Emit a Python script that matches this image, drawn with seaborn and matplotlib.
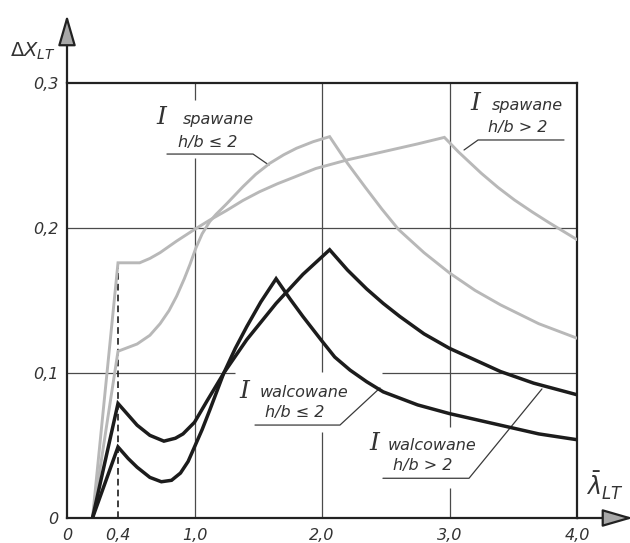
import numpy as np
import pandas as pd
import matplotlib
matplotlib.use("Agg")
import matplotlib.pyplot as plt
import seaborn as sns

# ---------------------------
# DATA
# ---------------------------

# I walcowane, h/b <= 2  (black, peak near 1.64)
walc_le_x = [0.2, 0.4, 0.48, 0.55, 0.65, 0.74, 0.82, 0.89, 0.95, 1.0, 1.06, 1.12, 1.23, 1.32, 1.41,
             1.52, 1.64, 1.75, 1.85, 2.0, 2.1, 2.22, 2.35, 2.48, 2.75, 3.0, 3.2, 3.4, 3.7, 4.0]
walc_le_y = [0.0, 0.049, 0.041, 0.035, 0.028, 0.025, 0.026, 0.031, 0.039, 0.049, 0.061, 0.0745, 0.1, 0.117, 0.132,
             0.149, 0.165, 0.151, 0.139, 0.122, 0.111, 0.102, 0.094, 0.087, 0.078, 0.072, 0.068, 0.064, 0.058, 0.054]

# I walcowane, h/b > 2  (black, peak near 2.06)
walc_gt_x = [0.2, 0.4, 0.48, 0.55, 0.65, 0.76, 0.85, 0.91, 1.0, 1.1, 1.23, 1.41, 1.64, 1.85,
             2.06, 2.2, 2.35, 2.48, 2.61, 2.8, 3.0, 3.2, 3.4, 3.66, 4.0]
walc_gt_y = [0.0, 0.079, 0.071, 0.064, 0.057, 0.053, 0.055, 0.058, 0.066, 0.081, 0.1, 0.123, 0.148, 0.168,
             0.185, 0.171, 0.158, 0.148, 0.139, 0.127, 0.117, 0.109, 0.101, 0.093, 0.085]

# I spawane, h/b <= 2  (grey, peak near 2.06)
spaw_le_x = [0.2, 0.4, 0.55, 0.65, 0.73, 0.8, 0.86, 0.92, 0.965, 1.01, 1.06, 1.12, 1.17, 1.25,
             1.38, 1.48, 1.59, 1.7, 1.8, 1.93, 2.06, 2.2, 2.34, 2.47, 2.6, 2.8, 3.0, 3.2, 3.4, 3.7, 4.0]
spaw_le_y = [0.0, 0.115, 0.12, 0.126, 0.134, 0.143, 0.153, 0.165, 0.175, 0.186, 0.196, 0.2045, 0.2095, 0.2165,
             0.2285, 0.237, 0.2446, 0.2505, 0.255, 0.2595, 0.263, 0.2446, 0.228, 0.213, 0.199, 0.183, 0.169,
             0.157, 0.147, 0.134, 0.124]

# I spawane, h/b > 2  (grey, peak near 2.96)
spaw_gt_x = [0.2, 0.4, 0.5, 0.57, 0.65, 0.73, 0.86, 1.0, 1.12, 1.25, 1.38, 1.51, 1.65, 1.78, 1.95,
             2.2, 2.5, 2.75, 2.96, 3.07, 3.25, 3.38, 3.51, 3.65, 3.775, 4.0]
spaw_gt_y = [0.0, 0.176, 0.176, 0.176, 0.179, 0.183, 0.191, 0.199, 0.2055, 0.212, 0.219, 0.225, 0.2305, 0.235,
             0.241, 0.247, 0.253, 0.258, 0.2625, 0.2525, 0.2377, 0.228, 0.2193, 0.211, 0.204, 0.192]

x_ticks = [0, 0.4, 1.0, 2.0, 3.0, 4.0]
x_tick_labels = ["0", "0,4", "1,0", "2,0", "3,0", "4,0"]
y_ticks = [0, 0.1, 0.2, 0.3]
y_tick_labels = ["0", "0,1", "0,2", "0,3"]

BLACK = "#1c1c1c"
GREY = "#b8b8b8"
INK = "#333333"

curves = pd.concat([
    pd.DataFrame({"x": walc_le_x, "y": walc_le_y, "curve": "walc_le"}),
    pd.DataFrame({"x": walc_gt_x, "y": walc_gt_y, "curve": "walc_gt"}),
    pd.DataFrame({"x": spaw_le_x, "y": spaw_le_y, "curve": "spaw_le"}),
    pd.DataFrame({"x": spaw_gt_x, "y": spaw_gt_y, "curve": "spaw_gt"}),
])

sns.set_style("white")
plt.rcParams["font.family"] = ["DejaVu Sans"]
plt.rcParams["mathtext.fontset"] = "dejavusans"

fig = plt.figure(figsize=(6.3, 5.43), dpi=100)
ax = fig.add_axes([67 / 630, 25 / 543, 510 / 630, 435 / 543])

# ---------------------------
# GRID (broken where the labels sit)
# ---------------------------
grid_kw = dict(color="#4a4a4a", lw=0.9, zorder=1)
ax.hlines(0.2, 0, 4, **grid_kw)
ax.hlines(0.1, 0, 1.32, **grid_kw)
ax.hlines(0.1, 2.47, 4, **grid_kw)
ax.vlines(1.0, 0, 0.248, **grid_kw)
ax.vlines(1.0, 0.288, 0.3, **grid_kw)
ax.vlines(2.0, 0, 0.059, **grid_kw)
ax.vlines(2.0, 0.101, 0.3, **grid_kw)
ax.vlines(3.0, 0, 0.021, **grid_kw)
ax.vlines(3.0, 0.063, 0.3, **grid_kw)

# dashed marker at lambda = 0.4
ax.vlines(spaw_gt_x[1], 0, spaw_gt_y[1], color=BLACK, lw=1.2, linestyles=(0, (4, 2.5)), zorder=2)

# ---------------------------
# CURVES
# ---------------------------
sns.lineplot(data=curves, x="x", y="y", hue="curve", sort=False, estimator=None,
             palette={"walc_le": BLACK, "walc_gt": BLACK, "spaw_le": GREY, "spaw_gt": GREY},
             linewidth=2.2, legend=False, ax=ax, zorder=3)
for line in ax.get_lines():
    line.set_solid_joinstyle("miter")
    if line.get_color() == BLACK:
        line.set_linewidth(2.5)
        line.set_zorder(4)
    else:
        line.set_linewidth(2.1)

ax.set_xlim(0, 4)
ax.set_ylim(0, 0.3)
ax.set_xlabel("")
ax.set_ylabel("")

for s in ax.spines.values():
    s.set_visible(True)
    s.set_color("#222222")
    s.set_linewidth(1.6)

ax.set_xticks(x_ticks)
ax.set_xticklabels(x_tick_labels)
ax.set_yticks(y_ticks)
ax.set_yticklabels(y_tick_labels)
ax.tick_params(length=0, labelsize=11.5, colors=INK)
ax.tick_params(axis="x", pad=7)
ax.tick_params(axis="y", pad=6)
for lab in ax.get_xticklabels() + ax.get_yticklabels():
    lab.set_fontstyle("italic")

# axis arrows
arrow_kw = dict(arrowstyle="-|>,head_length=1.9,head_width=0.55", mutation_scale=10,
                fc="#a8a8a8", ec="#222222", lw=1.6, shrinkA=0, shrinkB=0)
ax.annotate("", xy=(0, 0.347), xytext=(0, 0.3), arrowprops=arrow_kw, annotation_clip=False)
ax.annotate("", xy=(4.44, 0), xytext=(4.0, 0), arrowprops=arrow_kw, annotation_clip=False)

fig.text(10 / 630, 1 - 57 / 543, r"$\mathit{\Delta X}_{\mathit{LT}}$", fontsize=14, color=INK)
fig.text(586 / 630, 1 - 496 / 543, r"$\bar{\lambda}_{\mathit{LT}}$", fontsize=17, color=INK)

# ---------------------------
# LABELS WITH LEADERS
# ---------------------------
def beam_label(i_xy, word_xy, word, hb_xy, hb, leader):
    ax.text(*i_xy, "I", fontfamily="DejaVu Serif", fontstyle="italic", fontsize=18,
            color=INK, fontweight="light", clip_on=False)
    ax.text(*word_xy, word, fontstyle="italic", fontsize=11.5, color=INK)
    ax.text(*hb_xy, hb, fontstyle="italic", fontsize=11.5, color=INK)
    lx, ly = zip(*leader)
    ax.plot(lx, ly, color="#3a3a3a", lw=0.9, zorder=2)

beam_label((0.70, 0.272), (0.91, 0.272), "spawane", (0.87, 0.256), "h/b ≤ 2",
           [(0.784, 0.251), (1.459, 0.251), (1.584, 0.2434)])
beam_label((3.16, 0.2814), (3.333, 0.2814), "spawane", (3.30, 0.266), "h/b > 2",
           [(3.114, 0.2538), (3.224, 0.2607), (3.898, 0.2607)])
beam_label((1.35, 0.0828), (1.514, 0.0837), "walcowane", (1.553, 0.0697), "h/b ≤ 2",
           [(1.4745, 0.0641), (2.141, 0.0641), (2.455, 0.0897)])
beam_label((2.37, 0.0469), (2.518, 0.0469), "walcowane", (2.557, 0.0331), "h/b > 2",
           [(2.478, 0.0274), (3.153, 0.0274), (3.725, 0.089)])

fig.savefig("out.png", dpi=100)
